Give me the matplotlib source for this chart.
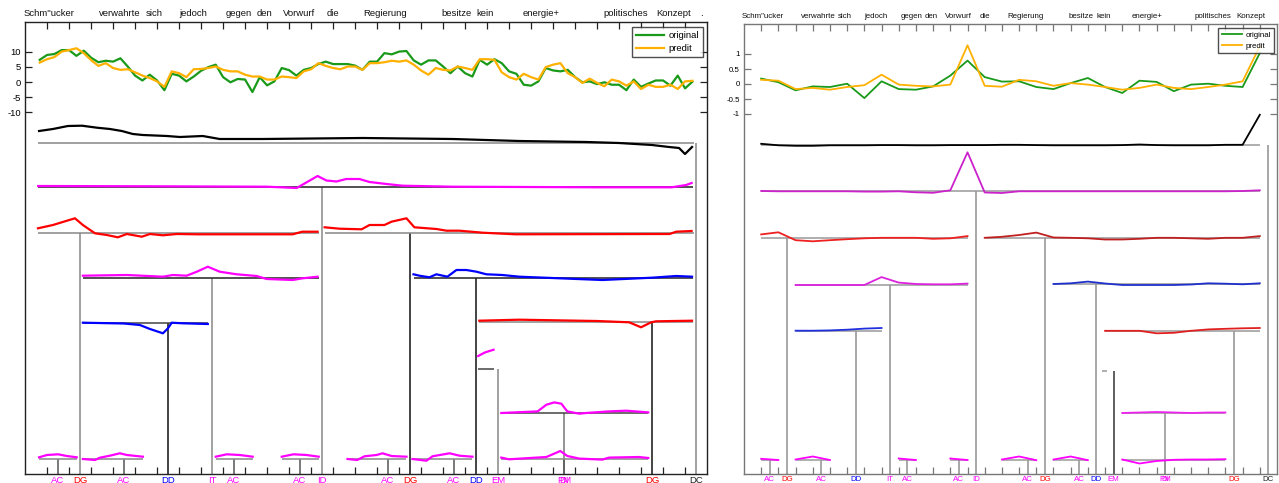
import matplotlib
matplotlib.use("Agg")
import matplotlib.pyplot as plt
import numpy as np

plt.rcParams['font.family'] = ['Liberation Sans', 'DejaVu Sans']

# ---------------- data ----------------
words = ['Schm"ucker', 'verwahrte', 'sich', 'jedoch', 'gegen', 'den', 'Vorwurf',
         'die', 'Regierung', 'besitze', 'kein', 'energie+', 'politisches', 'Konzept', '.']
word_x = [0.1, 3.3, 4.87, 6.64, 8.73, 9.9, 11.47, 13.0, 15.35, 18.63, 19.92, 22.45,
          26.3, 28.5, 29.73]
word_ticks = list(range(30))

node_labels = ['AC', 'DG', 'AC', 'DD', 'IT', 'AC', 'AC', 'ID', 'AC', 'DG', 'AC',
               'DD', 'EM', 'PM', 'DI', 'DG', 'DC']
node_label_x = [0.5, 1.5, 3.5, 5.5, 7.5, 8.5, 11.5, 12.5, 15.5, 16.5, 18.5, 19.5,
                20.5, 23.5, 23.5, 27.5, 29.5]
label_colors = {'AC': '#ff00ff', 'DG': '#ff0000', 'DD': '#0000ff', 'IT': '#ff00ff',
                'ID': '#ff00ff', 'EM': '#ff00ff', 'PM': '#ff00ff', 'DI': '#ff00ff',
                'DC': '#222222'}

# left panel: contour sampled three times per word
left_t = np.arange(90) / 3 - 0.33
left_original = [7.3, 8.9, 9.2, 10.5, 10.5, 8.6, 10.3, 8.0, 6.5, 7.0, 6.7, 7.8, 5.1, 2.1,
                 0.5, 2.4, 0.5, -2.7, 2.7, 2.1, 0.2, 1.8, 3.7, 4.9, 5.7, 1.6, -0.1, 1.0,
                 0.8, -3.3, 1.6, -1.1, 0.2, 4.6, 3.9, 2.1, 4.0, 4.6, 5.9, 6.7, 5.9, 5.9,
                 5.9, 5.4,
                 4.0, 6.7, 6.7, 9.5, 9.1, 10.0, 10.2, 7.1, 5.7, 7.1, 7.1, 5.1, 2.9, 5.1,
                 2.9, 1.8, 7.3, 5.7, 7.5, 6.2, 3.5, 2.7, -0.9, -1.2, 0.2, 4.6, 3.8, 3.5,
                 4.0, 1.6, -0.1, 0.2, -0.7, -0.1, -0.9, -0.9, -2.7, 0.8, -1.6, -0.5, 0.5,
                 0.5, -1.2, 2.1, -2.1, 0.1]
left_predicted = [6.4, 7.5, 8.2, 10.0, 10.5, 11.1, 9.5, 7.2, 5.3, 6.2, 4.6, 4.0, 4.2, 3.2,
                  2.1, 1.3, 0.2, -1.6, 3.5, 2.9, 1.6, 4.2, 4.3, 4.6, 5.1, 4.0, 3.5, 3.5,
                  2.4, 1.8, 1.8, 0.8, 0.8, 1.8, 1.6, 1.3, 3.5, 4.2, 6.2, 5.3, 4.6, 4.2,
                  5.1, 5.1,
                  4.0, 6.2, 6.2, 6.5, 7.0, 6.7, 7.1, 5.7, 3.8, 2.4, 4.6, 4.0, 3.8, 5.1,
                  4.6, 4.0, 7.5, 7.5, 7.3, 3.2, 1.6, 0.8, 2.7, 1.6, 0.8, 4.9, 5.7, 6.2,
                  2.9, 1.6, -0.3, 1.1, -0.3, -1.4, 0.8, 0.2, -1.2, 0.2, -2.3, -0.9, -1.6,
                  -1.6, -0.9, -2.3, 0.2, 0.4]

# right panel: one value per word
right_t = np.arange(30)
right_original = [0.18, 0.06, -0.21, -0.08, -0.10, 0.01, -0.47, 0.09, -0.17, -0.19,
                  -0.08, 0.28, 0.78, 0.23, 0.08, 0.09, -0.10, -0.17, 0.03, 0.20, -0.10,
                  -0.30, 0.11, 0.07, -0.24, -0.02, 0.01, -0.06, -0.10, 1.03]
right_predicted = [0.14, 0.11, -0.17, -0.13, -0.19, -0.10, -0.04, 0.31, -0.02, -0.06,
                   -0.08, -0.02, 1.29, -0.06, -0.09, 0.14, 0.09, -0.06, 0.03, -0.02,
                   -0.10, -0.19, -0.13, -0.02, -0.13, -0.17, -0.10, -0.02, 0.09, 1.26]

# tree node signals (left panel): vertices x (word units) and heights
L_x = [
    [-0.36, 0.27, 0.95, 1.59, 2.27, 2.86, 3.4, 3.9, 4.36, 5.45, 6.04, 7.08, 7.85, 9.8,
     14.34, 18.43, 21.47, 24.51, 26.0, 27.5, 28.28, 28.73, 29.0, 29.32],
    [-0.4, 5.0, 10.0, 11.35, 12.3, 12.7, 13.16, 13.6, 14.2, 14.66, 15.43, 16.16, 18.43,
     25.0, 28.4, 29.05, 29.3],
    [-0.41, 0.27, 0.91, 1.27, 1.63, 2.18, 2.72, 3.22, 3.63, 4.31, 4.68, 5.27, 5.9, 6.8,
     11.17, 11.6, 12.3],
    [12.62, 13.3, 14.3, 14.66, 15.34, 15.66, 16.34, 16.7, 17.7, 18.16, 18.75, 19.8, 21.3,
     28.3, 28.6, 29.3],
    [1.63, 3.63, 5.27, 5.72, 6.35, 6.81, 7.31, 7.85, 8.62, 9.53, 9.98, 11.17, 11.62, 12.3],
    [16.66, 16.93, 17.38, 17.7, 18.2, 18.61, 19.06, 19.52, 19.97, 20.7, 21.47, 25.24,
     27.5, 28.6, 29.32],
    [1.63, 3.5, 4.22, 4.68, 5.27, 5.5, 5.67, 6.17, 7.31],
    [19.65, 21.47, 25.0, 26.46, 27.0, 27.46, 27.69, 29.32],
    [19.6, 19.9, 20.3],
    [20.65, 22.3, 22.7, 23.06, 23.38, 23.65, 24.2, 24.5, 25.55, 26.33, 27.33],
    [-0.36, 0.0, 0.51, 0.9, 1.35],
    [1.63, 2.18, 2.4, 2.86, 3.31, 3.63, 4.36],
    [7.67, 8.17, 8.76, 9.35],
    [10.67, 11.2, 11.8, 12.35],
    [13.66, 14.1, 14.43, 14.98, 15.25, 15.66, 16.34],
    [16.61, 17.25, 17.52, 18.3, 18.75, 19.34],
    [20.65, 21.0, 22.7, 23.33, 23.65, 24.2, 25.24, 25.55, 26.9, 27.33],
]
L_h = [
    [12, 14, 17, 17.3, 15.3, 14, 12, 9, 8, 7, 6, 7, 4, 4, 5, 4, 2, 1, 0, -2, -4, -5, -11, -4],
    [1, 0.7, 0.3, -1, 11, 6.5, 5.5, 8, 8, 5, 3, 1.3, 0.3, -0.3, -0.3, 2, 4],
    [4.7, 8, 12.3, 14.7, 8, -0.3, -2, -4.3, -1, -3.7, -1, -2.3, -1, -1.3, -1.3, 1.3, 1.3],
    [5.7, 4.3, 3.7, 8, 8, 11.3, 14.7, 5.7, 4, 2.3, 2.3, 0.3, -1.3, -1, 1.3, 2],
    [2.3, 3, 1.3, 3, 2.3, 6.3, 11.3, 6.3, 3.7, 2, -1, -2, -0.3, 1.3],
    [3.7, 2.3, 0.7, 3.7, 1.3, 8, 8, 6.3, 3.7, 3, 1.3, -2, 0.3, 2, 1.3],
    [0.3, -0.5, -2, -6, -10.3, -5.3, 0.3, -0.3, -1],
    [1.3, 2.3, 1, -0.3, -5.3, -0.3, 0.7, 1.3],
    [13, 16.5, 19.3],
    [0, 1.6, 8.3, 10.6, 9.3, 1.6, -0.7, 0, 1.6, 2.3, 0.6],
    [1.7, 4, 4.7, 3, 1.7],
    [0, -1, 1.3, 3.3, 5.7, 4, 2.3],
    [2.3, 4.7, 4, 2.3],
    [2.3, 4.7, 4, 2.3],
    [0, -1, 2.7, 4, 5.7, 3, 2.3],
    [0, -1.7, 2.7, 5.7, 3.3, 2.3],
    [1.4, -0.3, 2, 8, 3, 0.4, -0.6, 1.4, 2, 1],
]
L_color = ['#000000', '#ff00ff', '#ff0000', '#ff0000', '#ff00ff', '#0000ff', '#0000ff',
           '#ff0000', '#ff00ff', '#ff00ff', '#ff00ff', '#ff00ff', '#ff00ff', '#ff00ff',
           '#ff00ff', '#ff00ff', '#ff00ff']

# tree node signals (right panel): one value per word
R_x = [
    list(range(0, 30)), list(range(0, 30)), list(range(0, 13)), list(range(13, 30)),
    list(range(2, 13)), list(range(17, 30)), list(range(2, 8)), list(range(20, 30)),
    [20], list(range(21, 28)),
    [0, 1], [2, 3, 4], [8, 9], [11, 12], [14, 15, 16], [17, 18, 19], list(range(21, 28)),
]
R_h = [
    [1, -0.5, -1, -1, -0.5, -0.5, -0.5, -0.3, -0.3, -0.5, -0.5, -0.3, -0.3, -0.3, 0, 0,
     -0.3, -0.5, -0.5, -0.5, -0.5, -0.3, 0.3, -0.3, -0.5, -0.5, -0.5, 0, 0, 30],
    [0.3, 0, 0, 0, 0, 0, -0.3, -0.3, 0, -1, -1.5, 1, 39, -1.2, -1.7, 0, 0, 0, 0, 0, 0, 0,
     0, 0, 0, 0, 0, 0, 0.3, 1],
    [3.4, 5.5, -2.4, -3.5, -2.4, -1.4, -0.5, 0, 0, 0, -1, -0.5, 1.7],
    [0, 1, 2.8, 5.2, 0.3, 0, -0.5, -1.7, -1.7, -1, 0, 0, -0.5, -1, 0, 0, 1.7],
    [0, 0, 0, 0, 0, 7.9, 2.4, 1, 0.7, 0.7, 1.4],
    [0, 0.7, 2.4, 0.5, -1, -1, -1, -1, -0.5, 0.7, 0.3, -0.3, 0.7],
    [0.7, 0.7, 1, 1.7, 2.8, 3.4],
    [0, 0, 0, -2.5, -2, 0, 1.4, 2, 2.5, 2.8],
    [0],
    [0, 0.5, 1, 0.5, 0, 0.5, 0.5],
    [0.7, -0.5], [0, 3, -0.5], [1, -0.5], [1, -0.5], [0, 3, -0.7], [0, 3, -0.7],
    [0, -4, -1.5, -0.3, 0, 0, 0.3],
]
R_color = ['#000000', '#cc22cc', '#ee2020', '#c02020', '#dd22dd', '#2030cc', '#2030dd',
           '#e02020', '#999999', '#ee22ee', '#ff00ff', '#ff00ff', '#ff00ff', '#ff00ff',
           '#ff00ff', '#ff00ff', '#ff00ff']

# ---------------- layout (pixel-like rows) ----------------
L_row = [143, 187, 233, 233, 278, 278, 323, 322, 369, 413] + [459] * 7
L_span = [(-0.41, 29.4), (-0.41, 29.35), (-0.41, 12.35), (12.62, 29.4), (1.63, 12.35),
          (16.66, 29.37), (1.63, 7.31), (19.65, 29.37), (19.6, 20.3), (20.65, 27.33),
          (-0.36, 1.35), (1.63, 4.36), (7.67, 9.35), (10.67, 12.35), (13.66, 16.34),
          (16.61, 19.34), (20.65, 27.33)]
L_split = [29.5, 12.5, 1.5, 16.5, 7.5, 19.5, 5.5, 27.5, 20.5, 23.5,
           0.5, 3.5, 8.5, 11.5, 15.5, 18.5, 23.5]
L_base_col = ['#888888', '#222222', '#888888', '#888888', '#222222', '#222222',
              '#444444', '#888888', '#444444', '#444444'] + ['#888888'] * 7
L_vcol = ['#888888', '#888888', '#888888', '#111111', '#888888', '#111111', '#111111',
          '#111111', '#888888', '#777777'] + ['#555555'] * 7

R_row = [144.8, 191.3, 237.8, 237.8, 285, 284, 331.4, 330.8, 371, 413] + [459.5] * 7
R_span = [(0, 29.03), (0, 29.03), (0, 12), (13.06, 29), (1.97, 12), (17, 29), (2, 7),
          (20, 29), (19.85, 20.1), (21, 27), (0, 1), (2, 4), (8, 9), (11, 12), (14, 16),
          (17, 19), (21, 27)]
R_split = L_split
R_base_col = ['#999999'] * 17
R_vcol = ['#909090'] * 8 + ['#333333'] + ['#909090'] * 8

FIG_W, FIG_H = 1279, 483
fig = plt.figure(figsize=(FIG_W / 100, FIG_H / 100), dpi=100)


def frac(x0, y0, x1, y1):
    return [x0 / FIG_W, 1 - y1 / FIG_H, (x1 - x0) / FIG_W, (y1 - y0) / FIG_H]


def panel(box, top_box, row_top, t, orig, pred, top_lim, yticks, yticklabels,
          xs, hs, cols, rows, spans, splits, bcols, vcols, spine_col, lw_sig, fs,
          legend_anchor, handlelen, show_words, lw_top):
    ax = fig.add_axes(frac(*box))
    ax.set_xlim(-1, 30)
    ax.set_ylim(474, row_top)
    for s in ax.spines.values():
        s.set_color(spine_col)
        s.set_linewidth(1.0)
    ax.set_xticks(word_ticks)
    ax.set_yticks([])
    ax.tick_params(axis='x', direction='in', top=True, bottom=True, length=5,
                   width=0.9, color=spine_col, labelbottom=False, labeltop=False)
    bottom = 474
    for x, h, c, r, sp, s, bc, vc in zip(xs, hs, cols, rows, spans, splits, bcols, vcols):
        ax.vlines(s, r, bottom, color=vc, lw=1.1, zorder=1)
        ax.hlines(r, sp[0], sp[1], color=bc, lw=1.1, zorder=2)
        ax.plot(x, [r - v for v in h], color=c, lw=lw_sig, zorder=3,
                solid_joinstyle='round')
    for w, wx in zip(words, word_x):
        if wx in show_words:
            ax.text(wx, 1.008, w, transform=ax.get_xaxis_transform(), ha='center',
                    va='bottom', fontsize=fs, color='#111111')
    for lab, lx in zip(node_labels, node_label_x):
        ax.text(lx, -0.004, lab, transform=ax.get_xaxis_transform(), ha='center',
                va='top', fontsize=fs, color=label_colors[lab])

    tax = fig.add_axes(frac(*top_box))
    tax.set_xlim(-1, 30)
    tax.set_ylim(*top_lim)
    tax.patch.set_visible(False)
    for s in tax.spines.values():
        s.set_visible(False)
    tax.set_xticks([])
    tax.set_yticks(yticks)
    tax.set_yticklabels(yticklabels)
    tax.tick_params(axis='y', direction='in', left=True, right=True, length=5,
                    width=0.9, color=spine_col, labelsize=fs, pad=3)
    tax.plot(t, orig, color='#1a9a1a', lw=lw_top, label='original')
    tax.plot(t, pred, color='#ffb000', lw=lw_top, label='predit')
    leg = tax.legend(loc='upper right', bbox_to_anchor=legend_anchor, fontsize=fs,
                     frameon=True, fancybox=False, edgecolor='#222222',
                     handlelength=handlelen, borderpad=0.45, labelspacing=0.4,
                     handletextpad=0.4, borderaxespad=0)
    leg.get_frame().set_linewidth(1.0)
    return ax, tax


panel((25, 22, 707, 474), (25, 22, 707, 142), 22, left_t, left_original, left_predicted,
      (-19.74, 19.74), [-10, -5, 0, 5, 10], ['-10', '-5', '0', '5', '10'],
      L_x, L_h, L_color, L_row, L_span, L_split, L_base_col, L_vcol, '#222222', 1.6,
      6.8, (0.994, 0.958), 3.0, set(word_x), 1.6)

panel((744, 24, 1277, 474), (744, 24, 1277, 144), 24, right_t, right_original,
      right_predicted, (-2.0, 2.0), [-1, -0.5, 0, 0.5, 1], ['-1', '-0.5', '0', '0.5', '1'],
      R_x, R_h, R_color, R_row, R_span, R_split, R_base_col, R_vcol, '#777777', 1.3,
      5.7, (0.995, 0.967), 2.6, set(word_x[:-1]), 1.3)

fig.savefig('out.png', dpi=100)
